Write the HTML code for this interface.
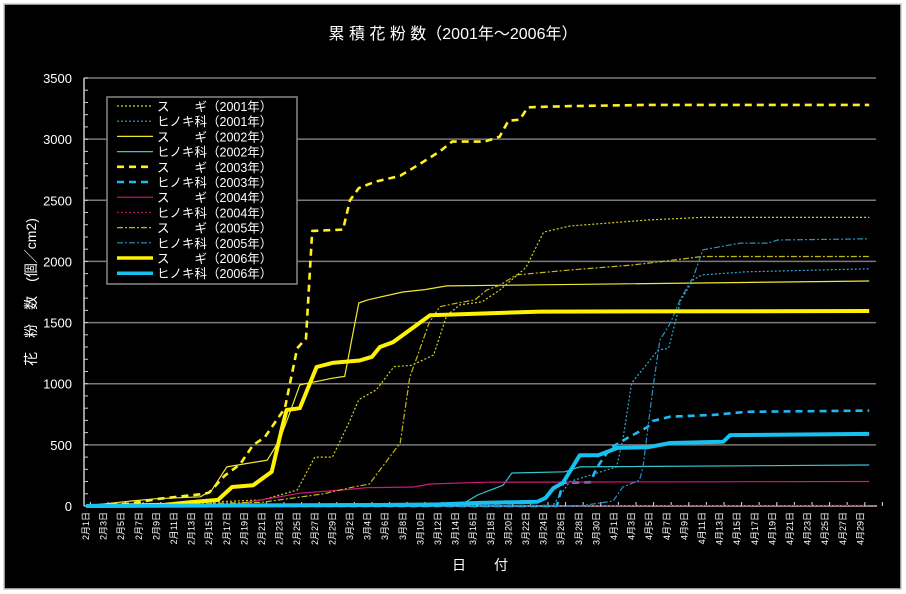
<!DOCTYPE html>
<html><head><meta charset="utf-8"><style>
html,body{margin:0;padding:0;background:#fff;}
svg{display:block;}
text{font-family:"Liberation Sans","Noto Sans CJK JP",sans-serif;fill:#fff;}
</style></head><body>
<svg id="chart" width="906" height="594" xmlns="http://www.w3.org/2000/svg">
<rect x="4" y="4" width="897" height="585" fill="#000" stroke="#c8c8c8" stroke-width="1.5"/>
<text x="453" y="39" font-size="16" text-anchor="middle">累 積 花 粉 数（2001年〜2006年）</text>
<text transform="translate(36,292) rotate(-90)" font-size="14" text-anchor="middle">花　粉　数　(個／cm2)</text>
<text x="480" y="570" font-size="14" text-anchor="middle">日　　付</text>
<g id="grid"></g><g id="axes"></g><g id="series"></g><g id="legend"></g>
</svg>
<script>
const yTicks=[0,500,1000,1500,2000,2500,3000,3500];
const dayLabels=["2月1日","2月3日","2月5日","2月7日","2月9日","2月11日","2月13日","2月15日","2月17日","2月19日","2月21日","2月23日","2月25日","2月27日","2月29日","3月2日","3月4日","3月6日","3月8日","3月10日","3月12日","3月14日","3月16日","3月18日","3月20日","3月22日","3月24日","3月26日","3月28日","3月30日","4月1日","4月3日","4月5日","4月7日","4月9日","4月11日","4月13日","4月15日","4月17日","4月19日","4月21日","4月23日","4月25日","4月27日","4月29日"];
// series: day index (0 = Feb 1) and cumulative counts
const sugi2001Days=[0,10,20,24,26,28,30,31,33,35,37,39.5,41,42.5,45,47,50,52,55,64,70,89];
const sugi2001Vals=[0,20,50,130,400,400,700,870,950,1140,1150,1235,1560,1645,1670,1765,1950,2240,2290,2340,2360,2360];
const hin2001Days=[0,52,53,55,60.3,61,62,65,66.2,67.6,69,70,75,89];
const hin2001Vals=[0,0,0,200,320,540,1005,1275,1290,1685,1850,1890,1915,1940];
const sugi2002Days=[0,5,8,13,14.3,16,20.6,22,23,24.3,28,29.4,31,32,36,38.5,41,89];
const sugi2002Vals=[0,40,60,75,130,320,375,540,730,990,1045,1060,1660,1685,1750,1770,1800,1840];
const hin2002Days=[0,43,44.5,47.4,48.4,54.4,56.1,89];
const hin2002Vals=[0,25,90,170,270,280,320,335];
const sugi2003Days=[0,5,8.4,13.5,14,15.8,17.5,19,20.3,22.6,24,25,25.7,29.2,30,31,32.8,35.7,38,40.2,41.6,45.3,47,48,49.3,50.2,55,64,89];
const sugi2003Vals=[0,20,60,100,110,250,340,500,560,800,1290,1370,2250,2260,2500,2600,2650,2700,2800,2900,2980,2980,3020,3150,3160,3260,3270,3280,3280];
const hin2003Days=[0,53.5,54.2,57.3,58.1,59.6,61.5,63.8,64.4,66.4,71.3,75.1,89];
const hin2003Vals=[0,0,190,195,320,475,555,645,695,730,745,770,780];
const sugi2004Days=[0,16,17.8,21.1,24.3,28.9,31.9,37.2,39.1,45.6,89];
const sugi2004Vals=[0,0,25,65,105,130,150,155,180,195,200];
const hin2004Days=[0,89];
const hin2004Vals=[3,5];
const sugi2005Days=[0,20,27,30,32.2,35.7,36.8,37.9,39,40.2,42.2,44.2,45.5,47,48.9,55,62,65,70,89];
const sugi2005Vals=[0,30,100,150,180,515,1055,1275,1500,1630,1660,1685,1765,1805,1890,1930,1970,1995,2040,2040];
const hin2005Days=[0,56,59.9,61,62.9,63.3,64.4,65.2,66.4,67.5,69,70.1,72,74.4,77.5,78.6,89];
const hin2005Vals=[0,0,40,155,210,320,950,1355,1495,1685,1870,2095,2120,2150,2150,2175,2185];
const sugi2006Days=[0,9,11.8,15,16.6,19,21.1,22.3,22.8,24.3,26.2,28,31.1,32.5,33.4,34.9,39.1,51.6,89];
const sugi2006Vals=[0,10,30,50,155,170,280,645,785,800,1137,1170,1190,1220,1300,1340,1560,1590,1595];
const hin2006Days=[0,39,44.8,51.3,52.2,53.1,54.2,56.1,58.2,60.4,63.8,66.4,72.4,73.2,89];
const hin2006Vals=[0,10,25,35,65,145,190,415,415,475,480,515,525,580,590];

const NS="http://www.w3.org/2000/svg";
const X0=86,DX=8.8,Y0=506,YS=428/3500;
function xs(d){return X0+d*DX;}
function ys(v){return Y0-v*YS;}
function mk(tag,attrs,parent){const e=document.createElementNS(NS,tag);for(const k in attrs)e.setAttribute(k,attrs[k]);parent.appendChild(e);return e;}
const grid=document.getElementById('grid'),axes=document.getElementById('axes'),ser=document.getElementById('series'),leg=document.getElementById('legend');
yTicks.forEach(t=>{
  if(t>0){const g=mk('line',{x1:84,x2:876,y1:ys(t),y2:ys(t),stroke:'#7a7a7a','stroke-width':1.5},grid);
  
  }
  const tx=mk('text',{x:72,y:ys(t)+5,'font-size':13,'text-anchor':'end'},axes);tx.textContent=t;
  
  
});
for(let v=0;v<=3500;v+=100){const m=mk('line',{x1:84,x2:88,y1:ys(v),y2:ys(v),stroke:'#ccc','stroke-width':1},axes);
  
  }
const ya=mk('line',{x1:84,x2:84,y1:ys(3500),y2:Y0,stroke:'#ccc','stroke-width':1.5},axes);


const xa=mk('line',{x1:84,x2:877,y1:Y0,y2:Y0,stroke:'#c9a9b9','stroke-width':1.5},axes);


for(let i=0;i<=45;i++){const tk=mk('line',{x1:xs(2*i)-4.4+8.8,x2:xs(2*i)-4.4+8.8,y1:Y0-4,y2:Y0,stroke:'#ddd','stroke-width':1},axes);
  
  }
dayLabels.forEach((l,i)=>{const x=xs(2*i)+3;
  const t=mk('text',{transform:`translate(${x},512) rotate(-90)`,'font-size':9,'text-anchor':'end'},axes);t.textContent=l;
  
  });
const S=[
 ['sugi-2001','ス　　ギ（2001年）',sugi2001Days,sugi2001Vals,'#d8d020',1.2,'2,2'],
 ['hinoki-2001','ヒノキ科（2001年）',hin2001Days,hin2001Vals,'#2fa8d8',1.2,'2,2'],
 ['sugi-2002','ス　　ギ（2002年）',sugi2002Days,sugi2002Vals,'#f0e830',1.2,''],
 ['hinoki-2002','ヒノキ科（2002年）',hin2002Days,hin2002Vals,'#30c8d0',1.2,''],
 ['sugi-2003','ス　　ギ（2003年）',sugi2003Days,sugi2003Vals,'#fff020',2.6,'7,5'],
 ['hinoki-2003','ヒノキ科（2003年）',hin2003Days,hin2003Vals,'#20b8f0',2.6,'7,5'],
 ['sugi-2004','ス　　ギ（2004年）',sugi2004Days,sugi2004Vals,'#d01880',1.2,''],
 ['hinoki-2004','ヒノキ科（2004年）',hin2004Days,hin2004Vals,'#b01060',1.2,'2,2'],
 ['sugi-2005','ス　　ギ（2005年）',sugi2005Days,sugi2005Vals,'#c0b810',1.2,'6,2,2,2'],
 ['hinoki-2005','ヒノキ科（2005年）',hin2005Days,hin2005Vals,'#2a90c0',1.2,'6,2,2,2'],
 ['sugi-2006','ス　　ギ（2006年）',sugi2006Days,sugi2006Vals,'#fff200',4,''],
 ['hinoki-2006','ヒノキ科（2006年）',hin2006Days,hin2006Vals,'#18c0f0',4,'']
];
S.forEach(s=>{
  const pts=s[2].map((d,i)=>xs(d).toFixed(1)+','+ys(s[3][i]).toFixed(1)).join(' ');
  const p=mk('polyline',{points:pts,fill:'none',stroke:s[4],'stroke-width':s[5],'stroke-linejoin':'round'},ser);
  if(s[6])p.setAttribute('stroke-dasharray',s[6]);
  
  
});
const box=mk('rect',{x:107,y:97,width:190,height:187,fill:'#000',stroke:'#888','stroke-width':1.5},leg);


S.forEach((s,i)=>{const y=106+i*15.2;
  const g=mk('g',{},leg);
  
  
  const l=mk('line',{x1:117,x2:153,y1:y,y2:y,stroke:s[4],'stroke-width':Math.min(s[5],3.5)},g);
  if(s[6])l.setAttribute('stroke-dasharray',s[6]);
  const t=mk('text',{x:157,y:y+5,'font-size':12.5},g);t.textContent=s[1];
});
</script>
</body></html>
